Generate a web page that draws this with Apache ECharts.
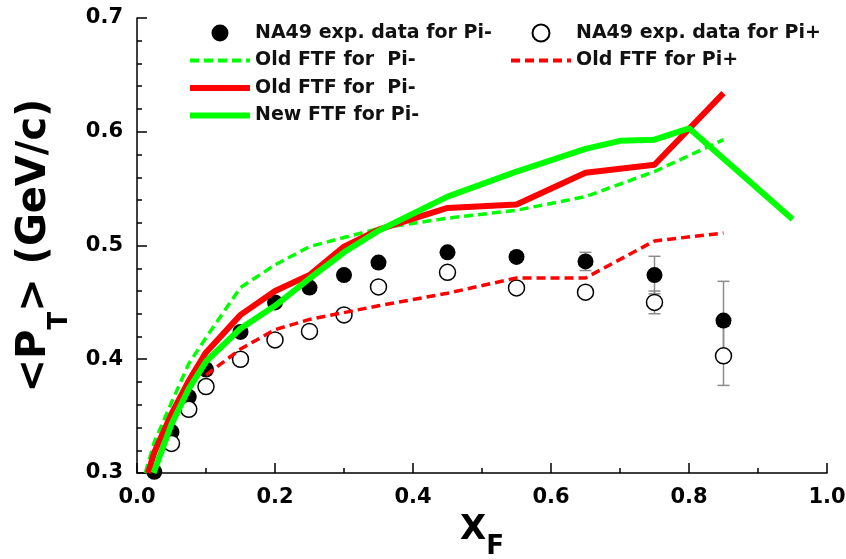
<!DOCTYPE html>
<html><head><meta charset="utf-8">
<script src="https://cdn.jsdelivr.net/npm/echarts@6/dist/echarts.min.js"></script>
<style>html,body{margin:0;padding:0;background:#fff}#c{width:846px;height:559px}</style>
</head><body><div id="c"></div>
<script>
const FONT = 'DejaVu Sans';

// NA49 experimental data
const expX_PiMinus   = [0.025,0.05,0.075,0.1,0.15,0.2,0.25,0.3,0.35,0.45,0.55,0.65,0.75,0.85];
const expY_PiMinus   = [0.301,0.336,0.367,0.391,0.424,0.450,0.463,0.474,0.485,0.494,0.490,0.486,0.474,0.434];
const expErr_PiMinus = [0.002,0.002,0.002,0.002,0.002,0.002,0.002,0.002,0.002,0.002,0.003,0.008,0.0165,0.0345];
const expX_PiPlus    = [0.05,0.075,0.1,0.15,0.2,0.25,0.3,0.35,0.45,0.55,0.65,0.75,0.85];
const expY_PiPlus    = [0.326,0.356,0.376,0.400,0.417,0.4245,0.439,0.4636,0.4764,0.4627,0.459,0.450,0.403];
const expErr_PiPlus  = [0.002,0.002,0.002,0.002,0.002,0.002,0.002,0.002,0.002,0.002,0.003,0.010,0.026];

// Model curves
const oldPiMinusDashX = [0.012,0.025,0.05,0.075,0.1,0.15,0.2,0.25,0.3,0.35,0.45,0.55,0.65,0.75,0.85];
const oldPiMinusDashY = [0.300,0.327,0.362,0.396,0.419,0.463,0.483,0.499,0.507,0.515,0.524,0.531,0.543,0.565,0.593];
const oldPiPlusDashX  = [0.1,0.15,0.2,0.25,0.3,0.35,0.45,0.55,0.65,0.75,0.85];
const oldPiPlusDashY  = [0.386,0.409,0.426,0.435,0.441,0.447,0.458,0.4715,0.4715,0.504,0.511];
const oldPiMinusX     = [0.016,0.025,0.05,0.075,0.1,0.15,0.2,0.25,0.3,0.35,0.45,0.55,0.65,0.75,0.85];
const oldPiMinusY     = [0.300,0.318,0.352,0.381,0.406,0.439,0.460,0.474,0.499,0.514,0.533,0.536,0.564,0.571,0.634];
const newPiMinusX     = [0.024,0.05,0.075,0.1,0.15,0.2,0.25,0.3,0.35,0.45,0.55,0.65,0.7,0.75,0.8,0.95];
const newPiMinusY     = [0.300,0.343,0.374,0.398,0.427,0.447,0.471,0.494,0.513,0.543,0.565,0.585,0.592,0.593,0.603,0.523];

// Axis ticks
const xMin = 0.0, xMax = 1.0, xStep = 0.2;
const yMin = 0.3, yMax = 0.7, yStep = 0.1;

const names = {
  expM: 'NA49 exp. data for Pi-',
  expP: 'NA49 exp. data for Pi+',
  oldMD: 'Old FTF for  Pi-',
  oldPD: 'Old FTF for Pi+',
  oldM: 'Old FTF for\u00a0 Pi-',
  newM: 'New FTF for Pi-'
};

const zip = (xs, ys) => xs.map((x, i) => [x, ys[i]]);
const errData = (xs, ys, es) => xs.map((x, i) => [x, ys[i] - es[i], ys[i] + es[i]]);

function errRender(params, api) {
  const x = api.value(0), lo = api.value(1), hi = api.value(2);
  const t = api.coord([x, hi]), b = api.coord([x, lo]);
  const w = 6, st = { stroke: '#8c8c8c', lineWidth: 1.5 };
  return { type: 'group', children: [
    { type: 'line', shape: { x1: t[0], y1: t[1], x2: b[0], y2: b[1] }, style: st },
    { type: 'line', shape: { x1: t[0]-w, y1: t[1], x2: t[0]+w, y2: t[1] }, style: st },
    { type: 'line', shape: { x1: b[0]-w, y1: b[1], x2: b[0]+w, y2: b[1] }, style: st }
  ]};
}

const GREEN = '#00ff00', RED = '#ff0000';
const legendText = { fontFamily: FONT, fontWeight: 'bold', fontSize: 19, color: '#111', lineHeight: 20 };
const lineItem = (name, w) => ({ name, itemStyle: { opacity: 0 }, lineStyle: { width: w } });

const chart = echarts.init(document.getElementById('c'), null, { renderer: 'canvas' });
chart.setOption({
  animation: false,
  backgroundColor: '#fff',
  grid: { left: 137, right: 19, top: 18, bottom: 86, containLabel: false, outerBoundsMode: 'none' },
  legend: [
    { orient: 'vertical', left: 187, top: 23, padding: 0, itemGap: 7.5, itemWidth: 60, itemHeight: 17,
      textStyle: legendText, selectedMode: false,
      data: [names.expM, lineItem(names.oldMD, 4), lineItem(names.oldM, 6), lineItem(names.newM, 6)] },
    { orient: 'vertical', left: 509, top: 23, padding: 0, itemGap: 7.5, itemWidth: 60, itemHeight: 17,
      textStyle: legendText, selectedMode: false,
      data: [names.expP, lineItem(names.oldPD, 4)] }
  ],
  xAxis: {
    type: 'value', min: xMin, max: xMax, interval: xStep,
    name: '{m|X}{s|F}', nameLocation: 'middle', nameGap: 26,
    nameTextStyle: { rich: {
      m: { fontFamily: FONT, fontWeight: 'bold', fontSize: 34, color: '#000' },
      s: { fontFamily: FONT, fontWeight: 'bold', fontSize: 26, color: '#000', padding: [34, 0, 0, 0], verticalAlign: 'bottom' }
    } },
    axisLine: { show: true, lineStyle: { color: '#000', width: 1.5 } },
    axisTick: { show: true, inside: true, length: 10, lineStyle: { color: '#000', width: 1.5 } },
    minorTick: { show: true, splitNumber: 2, length: 5, lineStyle: { color: '#000', width: 1.5 } },
    splitLine: { show: false },
    axisLabel: { margin: 14, fontFamily: FONT, fontWeight: 'bold', fontSize: 21, color: '#000',
      formatter: v => v.toFixed(1) }
  },
  yAxis: {
    type: 'value', min: yMin, max: yMax, interval: yStep,
    name: '{m|<P}{s|T}{m|> (GeV/c)}', nameLocation: 'middle', nameRotate: 90, nameGap: 64,
    nameTextStyle: { rich: {
      m: { fontFamily: FONT, fontWeight: 'bold', fontSize: 40, color: '#000' },
      s: { fontFamily: FONT, fontWeight: 'bold', fontSize: 26, color: '#000', padding: [50, 0, 0, 0], verticalAlign: 'bottom' }
    } },
    axisLine: { show: true, lineStyle: { color: '#000', width: 1.5 } },
    axisTick: { show: true, inside: true, length: 10, lineStyle: { color: '#000', width: 1.5 } },
    minorTick: { show: true, splitNumber: 5, length: 5, lineStyle: { color: '#000', width: 1.5 } },
    splitLine: { show: false },
    axisLabel: { margin: 14, fontFamily: FONT, fontWeight: 'bold', fontSize: 21, color: '#000',
      formatter: v => v.toFixed(1) }
  },
  series: [
    { type: 'custom', name: 'errM', renderItem: errRender, data: errData(expX_PiMinus, expY_PiMinus, expErr_PiMinus), clip: true, z: 1 },
    { type: 'custom', name: 'errP', renderItem: errRender, data: errData(expX_PiPlus, expY_PiPlus, expErr_PiPlus), clip: true, z: 1 },
    { type: 'scatter', name: names.expM, data: zip(expX_PiMinus, expY_PiMinus), symbol: 'circle', symbolSize: 16,
      itemStyle: { color: '#000', opacity: 1 }, z: 2 },
    { type: 'scatter', name: names.expP, data: zip(expX_PiPlus, expY_PiPlus), symbol: 'circle', symbolSize: 16,
      itemStyle: { color: '#fff', borderColor: '#000', borderWidth: 1.5, opacity: 1 }, z: 2 },
    { type: 'line', name: names.oldPD, data: zip(oldPiPlusDashX, oldPiPlusDashY), symbol: 'none', clip: true,
      lineStyle: { color: RED, width: 3.5, type: [9, 5] }, itemStyle: { color: RED }, z: 3 },
    { type: 'line', name: names.oldMD, data: zip(oldPiMinusDashX, oldPiMinusDashY), symbol: 'none', clip: true,
      lineStyle: { color: GREEN, width: 3.5, type: [9, 5] }, itemStyle: { color: GREEN }, z: 4 },
    { type: 'line', name: names.oldM, data: zip(oldPiMinusX, oldPiMinusY), symbol: 'none', clip: true,
      lineStyle: { color: RED, width: 6 }, itemStyle: { color: RED }, z: 5 },
    { type: 'line', name: names.newM, data: zip(newPiMinusX, newPiMinusY), symbol: 'none', clip: true,
      lineStyle: { color: GREEN, width: 6 }, itemStyle: { color: GREEN }, z: 6 }
  ]
});
</script></body></html>
